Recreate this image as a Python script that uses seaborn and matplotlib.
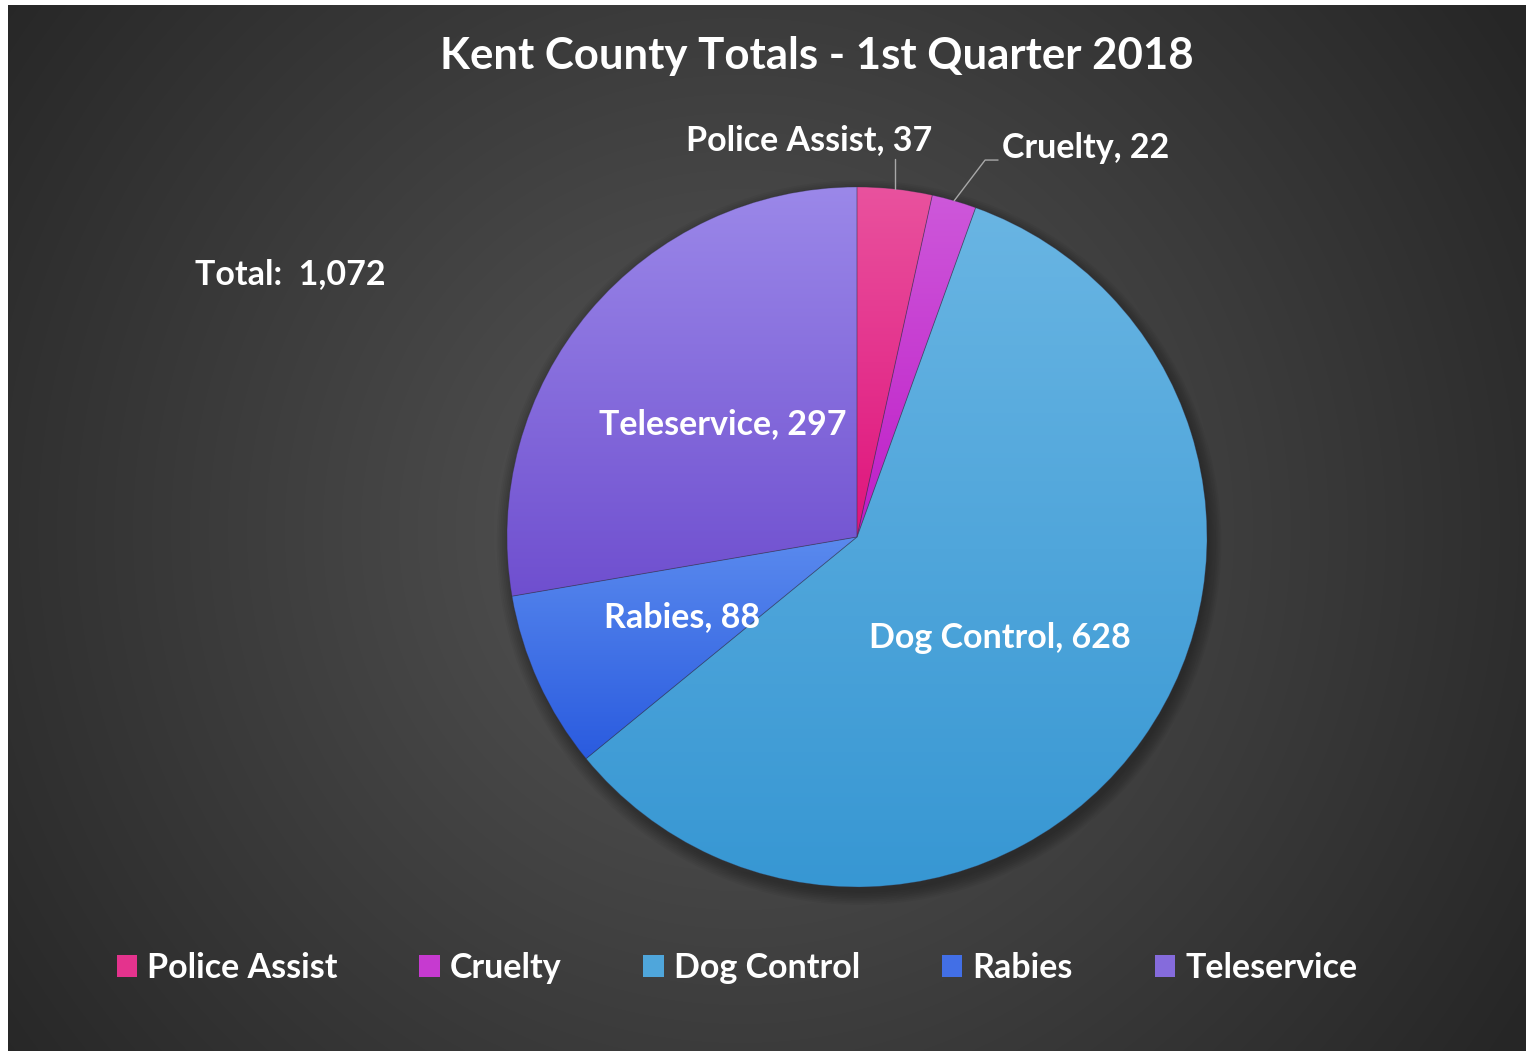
import numpy as np
import matplotlib
matplotlib.use("Agg")
import matplotlib.pyplot as plt
import seaborn as sns
from matplotlib.colors import LinearSegmentedColormap
from matplotlib.patches import Patch, Circle

categories = ["Police Assist", "Cruelty", "Dog Control", "Rabies", "Teleservice"]
counts = [37, 22, 628, 88, 297]
total_label = "Total:  1,072"
title = "Kent County Totals - 1st Quarter 2018"

# gradient colours per slice (top, bottom)
tops = ["#e9529e", "#cd58da", "#69b5e3", "#5a8aee", "#9b88e9"]
bots = ["#df147c", "#bf1dc7", "#3797d3", "#2a5bdf", "#6f4fcf"]
mids = ["#e4338d", "#c63ad0", "#4fa6db", "#426fe6", "#856bdc"]

sns.set_style("dark")
plt.rcParams["font.family"] = ["Lato", "DejaVu Sans"]
plt.rcParams["font.weight"] = "bold"

W, H = 1526, 1051
fig = plt.figure(figsize=(W / 100, H / 100), dpi=100, facecolor="white")

# radial background
bg = fig.add_axes([8 / W, 0, 1 - 8 / W, (H - 5) / H])
yy, xx = np.mgrid[5:H, 8:W]
d = np.hypot(xx - 740, yy - 530)
v = 0x57 - (0x57 - 0x26) * np.clip(d / 930, 0, 1)
img = np.dstack([v, v, v]) / 255
bg.imshow(img, aspect="auto", extent=(0, 1, 0, 1), origin="upper")
bg.set_axis_off()

# pie axes: centre (857,537) px, radius 350 px
S = 770
ax = fig.add_axes([(857 - S / 2) / W, (H - 537 - S / 2) / H, S / W, S / H])
ax.set_facecolor("none")

for i in range(8):
    ax.add_patch(Circle((0.006, -0.016), 1.0 + 0.005 * i, color="black",
                        alpha=0.04, lw=0, zorder=0))

wedges, _ = ax.pie(counts, startangle=90, counterclock=False, radius=1,
                   wedgeprops=dict(edgecolor=(0.2, 0.2, 0.3, 0.35), linewidth=0.6))

for w, t, b in zip(wedges, tops, bots):
    verts = w.get_path().vertices
    y0, y1 = verts[:, 1].min(), verts[:, 1].max()
    cmap = LinearSegmentedColormap.from_list("g", [b, t])
    grad = np.linspace(0, 1, 256)[:, None]
    im = ax.imshow(grad, extent=(-1, 1, y0, y1), origin="lower", cmap=cmap,
                   aspect="auto", zorder=1.5)
    im.set_clip_path(w)
    w.set_facecolor("none")
    w.set_zorder(2)

ax.set_xlim(-1.1, 1.1)
ax.set_ylim(-1.1, 1.1)
ax.set_aspect("equal")
ax.set_axis_off()

fs = 24.5
# inner labels
for idx, r in [(2, 0.5), (3, 0.55), (4, 0.5)]:
    w = wedges[idx]
    a = np.deg2rad((w.theta1 + w.theta2) / 2)
    ax.text(r * np.cos(a), r * np.sin(a), f"{categories[idx]}, {counts[idx]}",
            ha="center", va="center", color="white", fontsize=fs,
            fontweight="bold", zorder=5)

# outer labels with leader lines
lc = "#a8a8a8"
w = wedges[0]
a = np.deg2rad((w.theta1 + w.theta2) / 2)
ex, ey = np.cos(a), np.sin(a)
ax.plot([ex, ex], [ey, 1.08], color=lc, lw=1, zorder=4, clip_on=False)
ax.text(-0.137, 1.134, f"{categories[0]}, {counts[0]}", ha="center", va="center",
        color="white", fontsize=fs, fontweight="bold", zorder=5)

w = wedges[1]
a = np.deg2rad((w.theta1 + w.theta2) / 2)
ex, ey = np.cos(a), np.sin(a)
ax.plot([ex, 0.366, 0.403], [ey, 1.077, 1.077], color=lc, lw=1, zorder=4,
        clip_on=False)
ax.text(0.414, 1.111, f"{categories[1]}, {counts[1]}", ha="left", va="center",
        color="white", fontsize=fs, fontweight="bold", zorder=5)

fig.text(290 / W, 1 - 274 / H, total_label, ha="center", va="center",
         color="white", fontsize=fs, fontweight="bold")
fig.text(817 / W, 1 - 56 / H, title, ha="center", va="center", color="white",
         fontsize=31.5, fontweight="bold")

handles = [Patch(facecolor=c, edgecolor="none") for c in mids]
leg = fig.legend(handles, categories, loc="center", ncol=5,
                 bbox_to_anchor=(737 / W, 1 - 968 / H), frameon=False,
                 fontsize=fs, handlelength=0.6, handleheight=0.6,
                 handletextpad=0.3, columnspacing=2.4)
for t in leg.get_texts():
    t.set_color("white")
    t.set_fontweight("bold")

fig.savefig("out.png", dpi=100, facecolor="white")
